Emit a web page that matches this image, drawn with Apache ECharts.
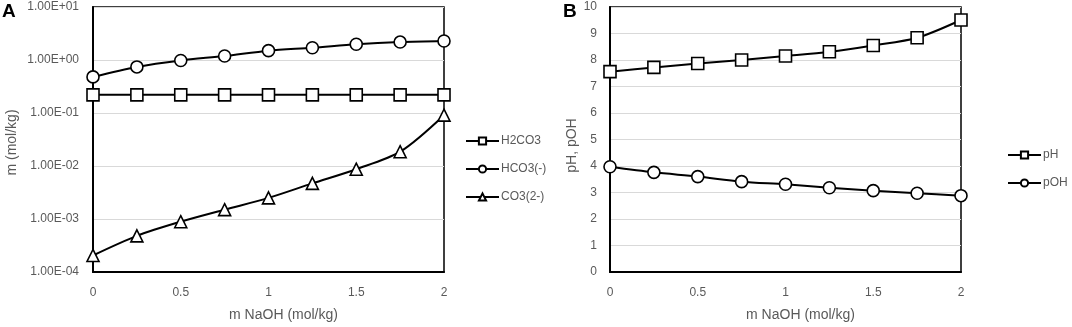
<!DOCTYPE html>
<html>
<head>
<meta charset="utf-8">
<script src="https://cdn.jsdelivr.net/npm/echarts@6/dist/echarts.min.js"></script>
<style>
  html, body { margin: 0; padding: 0; background: #fff; }
  #chart { width: 1072px; height: 327px; }
</style>
</head>
<body>
<div id="chart"></div>
<script>
// m NaOH (mol/kg)
const naoh = [0, 0.25, 0.5, 0.75, 1, 1.25, 1.5, 1.75, 2];

// panel A : molalites (mol/kg)
const h2co3 = [0.22, 0.22, 0.22, 0.22, 0.22, 0.22, 0.22, 0.22, 0.22];
const hco3 = [0.48, 0.74, 0.98, 1.19, 1.5, 1.7, 1.98, 2.18, 2.28];
const co3 = [0.000205, 0.00048, 0.00089, 0.0015, 0.0025, 0.0047, 0.0087, 0.0186, 0.091];

// panel B
const pH = [7.56, 7.72, 7.87, 8.0, 8.15, 8.31, 8.55, 8.84, 9.51];
const pOH = [3.97, 3.76, 3.6, 3.41, 3.31, 3.18, 3.07, 2.97, 2.88];

const FONT = 'Liberation Sans';
const GREY = '#595959';

function paires(ys) {
    return naoh.map((x, i) => [x, ys[i]]);
}

// format Excel 1.00E+01
function sci(v) {
    let e = Math.round(Math.log10(v));
    let m = v / Math.pow(10, e);
    let s = e < 0 ? '-' : '+';
    let ea = Math.abs(e);
    return m.toFixed(2) + 'E' + s + (ea < 10 ? '0' + ea : ea);
}

function serie(name, ys, symbol, idx) {
    return {
        name: name,
        type: 'line',
        xAxisIndex: idx,
        yAxisIndex: idx,
        data: paires(ys),
        smooth: 0.3,
        symbol: symbol,
        symbolSize: 12,
        showAllSymbol: true,
        lineStyle: { color: '#000', width: 2 },
        itemStyle: { color: '#fff', borderColor: '#000', borderWidth: 1.6 },
        emphasis: { disabled: true }
    };
}

function axeX(idx) {
    return {
        type: 'value',
        gridIndex: idx,
        min: 0,
        max: 2,
        interval: 0.5,
        name: 'm NaOH (mol/kg)',
        nameLocation: 'middle',
        nameGap: 36,
        nameTextStyle: { color: GREY, fontFamily: FONT, fontSize: 14, padding: [0, 0, 0, 30] },
        axisLine: { lineStyle: { color: '#000', width: 2 } },
        axisTick: { show: false },
        splitLine: { show: false },
        axisLabel: { color: GREY, fontFamily: FONT, fontSize: 12, margin: 15 }
    };
}

let chart = echarts.init(document.getElementById('chart'), null, { renderer: 'canvas' });

let options = {
    animation: false,
    backgroundColor: '#fff',
    grid: [
        { left: 93, top: 7, width: 351, height: 265, show: true, borderColor: '#000', borderWidth: 1.5 },
        { left: 610, top: 7, width: 351, height: 265, show: true, borderColor: '#000', borderWidth: 1.5 }
    ],
    legend: [
        {
            data: ['H2CO3', 'HCO3(-)', 'CO3(2-)'],
            orient: 'vertical',
            left: 465,
            top: 135,
            padding: 0,
            itemWidth: 33,
            itemHeight: 9,
            itemGap: 16,
            textStyle: { color: GREY, fontFamily: FONT, fontSize: 12, padding: [0, 0, 0, -3] }
        },
        {
            data: ['pH', 'pOH'],
            orient: 'vertical',
            left: 1007,
            top: 149,
            padding: 0,
            itemWidth: 33,
            itemHeight: 9,
            itemGap: 16,
            textStyle: { color: GREY, fontFamily: FONT, fontSize: 12, padding: [0, 0, 0, -3] }
        }
    ],
    xAxis: [axeX(0), axeX(1)],
    yAxis: [
        {
            type: 'log',
            logBase: 10,
            gridIndex: 0,
            min: 0.0001,
            max: 10,
            name: 'm (mol/kg)',
            nameLocation: 'middle',
            nameGap: 74,
            nameTextStyle: { color: GREY, fontFamily: FONT, fontSize: 14, padding: [0, 6, 0, 0] },
            axisLine: { show: true, lineStyle: { color: '#000', width: 2 } },
            axisTick: { show: false },
            splitLine: { lineStyle: { color: '#d9d9d9', width: 1 } },
            axisLabel: { color: GREY, fontFamily: FONT, fontSize: 12, margin: 14, formatter: sci }
        },
        {
            type: 'value',
            gridIndex: 1,
            min: 0,
            max: 10,
            interval: 1,
            name: 'pH, pOH',
            nameLocation: 'middle',
            nameGap: 31,
            nameTextStyle: { color: GREY, fontFamily: FONT, fontSize: 14, padding: [0, 12, 0, 0] },
            axisLine: { show: true, lineStyle: { color: '#000', width: 2 } },
            axisTick: { show: false },
            splitLine: { lineStyle: { color: '#d9d9d9', width: 1 } },
            axisLabel: { color: GREY, fontFamily: FONT, fontSize: 12, margin: 13 }
        }
    ],
    graphic: [
        { type: 'text', left: 2, top: 2, style: { text: 'A', font: 'bold 19px "Liberation Sans"', fill: '#000' } },
        { type: 'text', left: 563, top: 2, style: { text: 'B', font: 'bold 19px "Liberation Sans"', fill: '#000' } }
    ],
    series: [
        serie('H2CO3', h2co3, 'rect', 0),
        serie('HCO3(-)', hco3, 'circle', 0),
        serie('CO3(2-)', co3, 'triangle', 0),
        serie('pH', pH, 'rect', 1),
        serie('pOH', pOH, 'circle', 1)
    ]
};

chart.setOption(options);
</script>
</body>
</html>
